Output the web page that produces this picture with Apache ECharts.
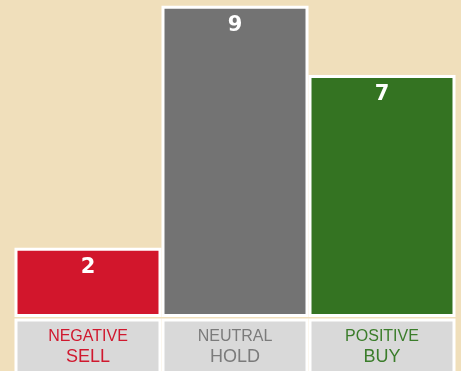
<!DOCTYPE html>
<html>
<head>
<meta charset="utf-8">
<script src="https://cdn.jsdelivr.net/npm/echarts@6/dist/echarts.min.js"></script>
<style>
html,body{margin:0;padding:0;background:#f0dfbb;}
#chart{width:461px;height:371px;}
</style>
</head>
<body>
<div id="chart"></div>
<script>
const categories = ['NEGATIVE', 'NEUTRAL', 'POSITIVE'];
const ratings = ['SELL', 'HOLD', 'BUY'];
const values = [2, 9, 7];
const boxValues = [1, 1, 1];
const barColors = ['#d2162c', '#737373', '#347322'];
const textColors = ['#d0182e', '#7b7b7b', '#3b7d2b'];

const chart = echarts.init(document.getElementById('chart'));
chart.setOption({
  backgroundColor: '#f0dfbb',
  animation: false,
  grid: [
    { left: 14.5, right: 5.5, top: 5.8, height: 311.2, outerBoundsMode: 'none' },
    { left: 14.5, right: 5.5, top: 318.5, height: 80, outerBoundsMode: 'none' }
  ],
  xAxis: [
    { type: 'category', data: categories, gridIndex: 0, show: false },
    { type: 'category', data: categories, gridIndex: 1, show: false }
  ],
  yAxis: [
    { type: 'value', min: 0, max: 9, gridIndex: 0, show: false },
    { type: 'value', min: 0, max: 1, gridIndex: 1, show: false }
  ],
  series: [
    {
      type: 'bar',
      xAxisIndex: 0, yAxisIndex: 0,
      barCategoryGap: 0,
      data: values.map((v, i) => ({ value: v, itemStyle: { color: barColors[i] } })),
      itemStyle: { borderColor: '#ffffff', borderWidth: 3 },
      label: {
        show: true,
        position: 'insideTop',
        distance: 9,
        color: '#ffffff',
        fontFamily: 'DejaVu Sans',
        fontWeight: 'bold',
        fontSize: 21
      }
    },
    {
      type: 'bar',
      xAxisIndex: 1, yAxisIndex: 1,
      barCategoryGap: 0,
      data: boxValues,
      itemStyle: { color: '#d9d9d9', borderColor: '#ffffff', borderWidth: 3 },
      label: {
        show: true,
        position: 'insideTop',
        distance: 8,
        formatter: p => '{a' + p.dataIndex + '|' + categories[p.dataIndex] + '}\n{b' + p.dataIndex + '|' + ratings[p.dataIndex] + '}',
        rich: Object.assign({}, ...textColors.map((c, i) => ({
          ['a' + i]: { color: c, fontFamily: 'Liberation Sans', fontSize: 16, lineHeight: 20 },
          ['b' + i]: { color: c, fontFamily: 'Liberation Sans', fontSize: 18, lineHeight: 22 }
        })))
      }
    }
  ]
});
</script>
</body>
</html>
